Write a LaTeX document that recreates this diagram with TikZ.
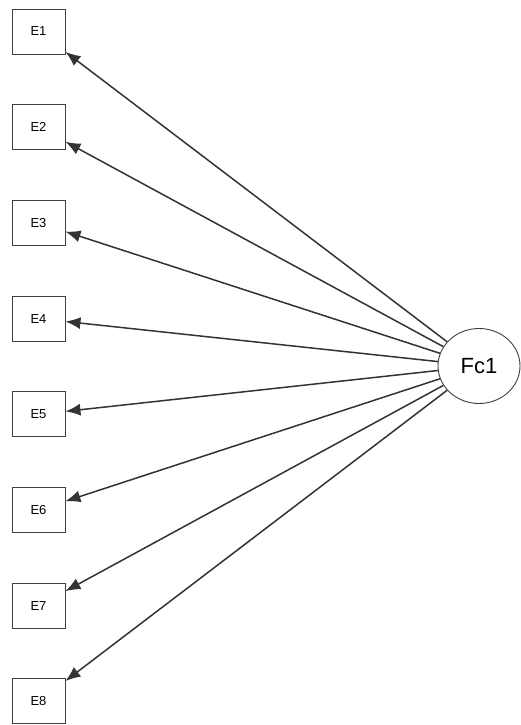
\documentclass[tikz,border=0pt]{standalone}
\usepackage{fontspec}
\setmainfont{Liberation Sans}
\usetikzlibrary{arrows.meta,shapes.geometric}
\begin{document}
\begin{tikzpicture}[x=1pt,y=-1pt,
  ebox/.style={draw=black!75,line width=0.9pt,minimum width=53pt,minimum height=45pt,inner sep=0pt,font=\fontsize{13}{14}\selectfont},
  fac/.style={draw=black!75,line width=0.9pt,ellipse,minimum width=82pt,minimum height=75pt,inner sep=0pt,font=\fontsize{22}{24}\selectfont},
  load/.style={draw=black!80,line width=1.5pt,-{Latex[length=15pt,width=12pt]}}]
\useasboundingbox (0,0) rectangle (520,725);
\node[fac] (F) at (479,366) {Fc1};
\foreach \i in {1,...,8} {
  \pgfmathsetmacro{\yy}{31.5+95.7*(\i-1)}
  \node[ebox] (E\i) at (38.5,\yy) {E\i};
  \draw[load] (F) -- (E\i);
}
\end{tikzpicture}
\end{document}
